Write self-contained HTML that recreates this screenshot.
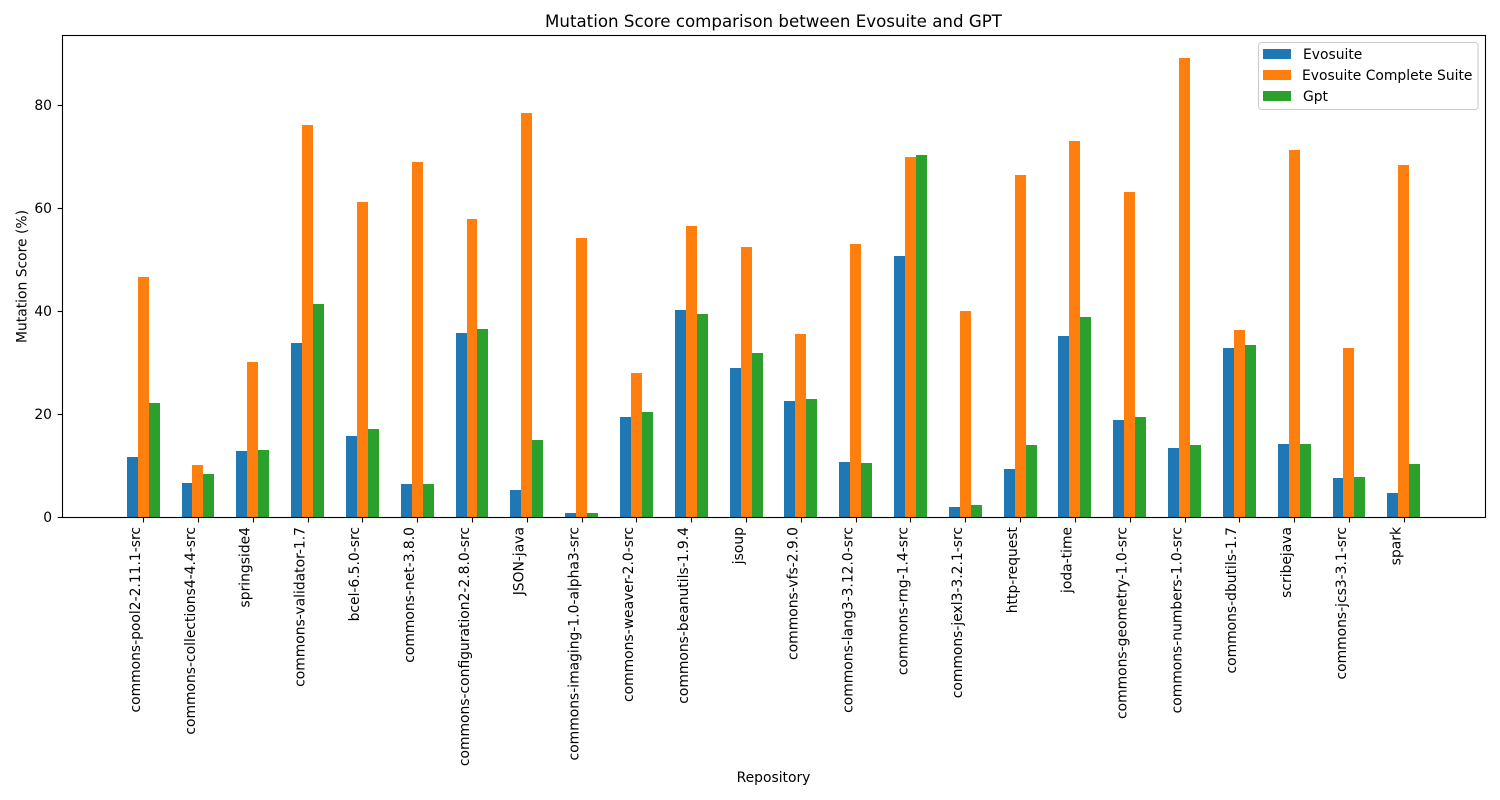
<!DOCTYPE html>
<html lang="en">
<head>
<meta charset="utf-8">
<title>Mutation Score comparison between Evosuite and GPT</title>
<style>
html,body{margin:0;padding:0;background:#fff;width:1500px;height:800px;overflow:hidden}
svg{display:block}
text{font-family:"DejaVu Sans","Liberation Sans",sans-serif;fill:#000}
</style>
</head>
<body>
<svg id="chart" xmlns="http://www.w3.org/2000/svg" width="1500" height="800" viewBox="0 0 1500 800">
  <rect x="0" y="0" width="1500" height="800" fill="#fff"/>
  <text x="773.5" y="27" font-size="16.67" text-anchor="middle">Mutation Score comparison between Evosuite and GPT</text>
  <g id="bars" shape-rendering="crispEdges"></g>
  <g id="x-axis"></g>
  <g id="y-axis"></g>
  <rect x="62.5" y="35.5" width="1423" height="482" fill="none" stroke="#000" stroke-width="1.1"/>
  <text x="773.5" y="782" font-size="13.89" text-anchor="middle">Repository</text>
  <text transform="translate(26.5,276.5) rotate(-90)" font-size="13.89" text-anchor="middle">Mutation Score (%)</text>
  <g id="legend">
    <rect x="1258.5" y="42.5" width="219.5" height="67" rx="3" ry="3" fill="#fff" fill-opacity="0.8" stroke="#ccc" stroke-width="1.1"/>
    <rect x="1263" y="49" width="28" height="10" fill="#1f77b4"/>
    <text x="1303" y="59" font-size="13.89">Evosuite</text>
    <rect x="1263" y="70" width="28" height="10" fill="#ff7f0e"/>
    <text x="1302" y="80" font-size="13.89">Evosuite Complete Suite</text>
    <rect x="1263" y="91" width="28" height="10" fill="#2ca02c"/>
    <text x="1303" y="101" font-size="13.89">Gpt</text>
  </g>
</svg>
<script>
const categories = ["commons-pool2-2.11.1-src","commons-collections4-4.4-src","springside4","commons-validator-1.7","bcel-6.5.0-src","commons-net-3.8.0","commons-configuration2-2.8.0-src","JSON-java","commons-imaging-1.0-alpha3-src","commons-weaver-2.0-src","commons-beanutils-1.9.4","jsoup","commons-vfs-2.9.0","commons-lang3-3.12.0-src","commons-rng-1.4-src","commons-jexl3-3.2.1-src","http-request","joda-time","commons-geometry-1.0-src","commons-numbers-1.0-src","commons-dbutils-1.7","scribejava","commons-jcs3-3.1-src","spark"];
const evosuite = [11.6,6.6,12.8,33.8,15.7,6.4,35.7,5.2,0.7,19.4,40.2,28.9,22.5,10.6,50.6,1.9,9.3,35.2,18.8,13.4,32.8,14.1,7.6,4.6];
const evosuiteComplete = [46.6,10.1,30.1,76.1,61.15,68.9,57.8,78.4,54.2,27.9,56.5,52.4,35.5,53.0,69.9,40.0,66.4,73.0,63.1,89.1,36.3,71.3,32.8,68.3];
const gpt = [22.1,8.3,13.0,41.3,17.0,6.4,36.5,14.9,0.7,20.3,39.4,31.8,22.9,10.5,70.2,2.3,13.9,38.8,19.4,13.9,33.4,14.2,7.7,10.3];
const yTicks = [0,20,40,60,80];

const NS = "http://www.w3.org/2000/svg";
const plot = {left:62.03, right:1484.9, top:36, bottom:517};
const xMin = -1.48, xMax = 24.48, yMax = 93.4;
const barWidth = 0.2;

function xScale(v){ return plot.left + (v - xMin) / (xMax - xMin) * (plot.right - plot.left); }
function yScale(v){ return plot.bottom - v / yMax * (plot.bottom - plot.top); }

function make(tag, attrs, parent){
  const el = document.createElementNS(NS, tag);
  for (const k in attrs) el.setAttribute(k, attrs[k]);
  parent.appendChild(el);
  return el;
}

const barsG = document.getElementById("bars");
const xG = document.getElementById("x-axis");
const yG = document.getElementById("y-axis");

function drawSeries(values, offset, color, name){
  values.forEach(function(v, i){
    const x0 = Math.round(xScale(i + offset - barWidth / 2));
    const x1 = Math.round(xScale(i + offset + barWidth / 2));
    const y0 = Math.round(yScale(v));
    const r = make("rect", {x:x0, y:y0, width:x1 - x0, height:plot.bottom - y0, fill:color}, barsG);
    
    
  });
}
drawSeries(evosuite, -barWidth, "#1f77b4", "evosuite");
drawSeries(evosuiteComplete, 0, "#ff7f0e", "evosuite-complete-suite");
drawSeries(gpt, barWidth, "#2ca02c", "gpt");

categories.forEach(function(c, i){
  const x = xScale(i);
  const px = Math.round(x) + 0.5;
  const t = make("line", {x1:px, x2:px, y1:plot.bottom + 0.5, y2:plot.bottom + 5.4, stroke:"#000", "stroke-width":1.1}, xG);
  
  
  const l = make("text", {transform:"translate(" + (x - 3.2) + "," + (plot.bottom + 10) + ") rotate(-90)", "font-size":13.89, "text-anchor":"end"}, xG);
  
  
  l.textContent = c;
});

yTicks.forEach(function(v){
  const y = yScale(v);
  const py = Math.round(y) + 0.5;
  const t = make("line", {x1:plot.left - 4.4, x2:plot.left + 0.5, y1:py, y2:py, stroke:"#000", "stroke-width":1.1}, yG);
  
  
  const l = make("text", {x:plot.left - 10, y:y + 5, "font-size":13.89, "text-anchor":"end"}, yG);
  
  
  l.textContent = String(v);
});
</script>
</body>
</html>
